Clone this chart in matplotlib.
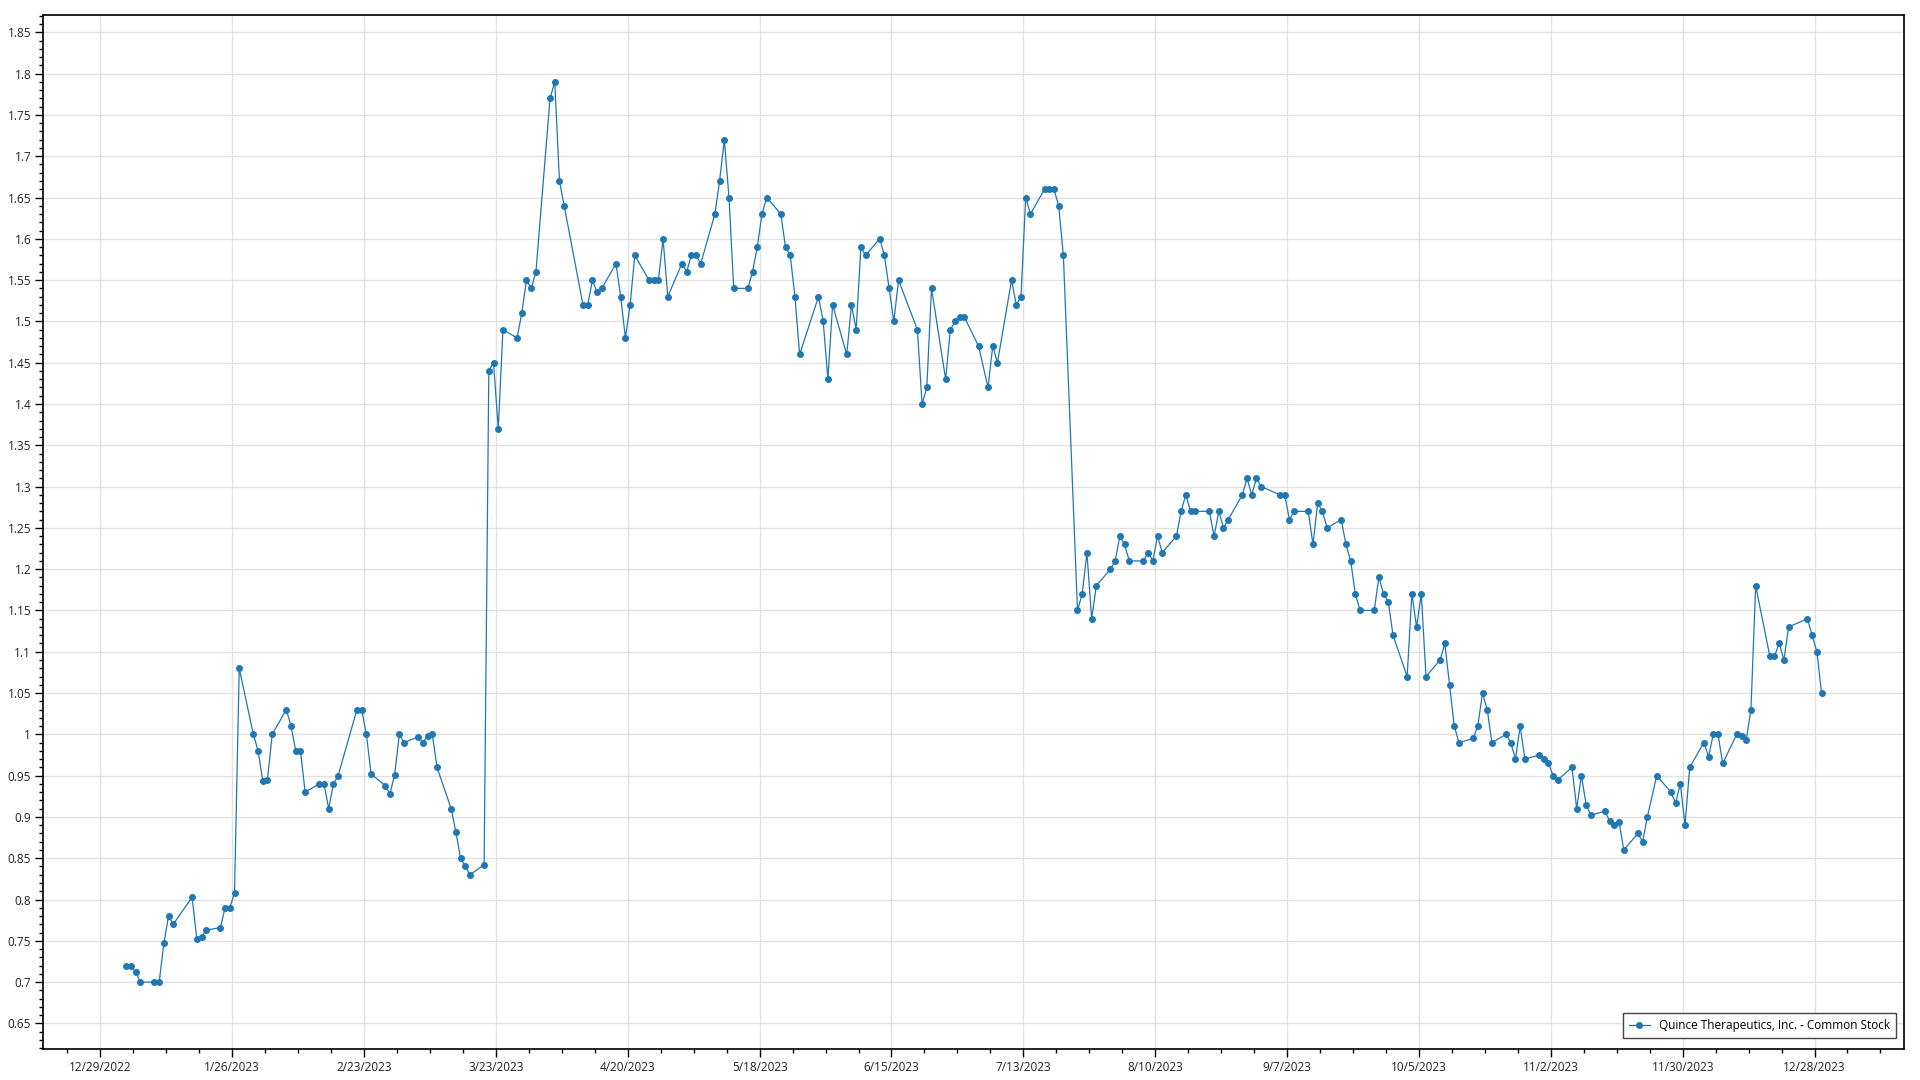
import matplotlib
matplotlib.use("Agg")
import matplotlib.pyplot as plt
import matplotlib.dates as mdates
import matplotlib.ticker as mticker
import pandas as pd

# trading days (month-day, 2023) and closing prices
dates = [
    "01-03", "01-04", "01-05", "01-06", "01-09", "01-10", "01-11", "01-12", "01-13",
    "01-17", "01-18", "01-19", "01-20", "01-23", "01-24", "01-25", "01-26", "01-27",
    "01-30", "01-31", "02-01", "02-02", "02-03", "02-06", "02-07", "02-08", "02-09", "02-10",
    "02-13", "02-14", "02-15", "02-16", "02-17", "02-21", "02-22", "02-23", "02-24",
    "02-27", "02-28", "03-01", "03-02", "03-03", "03-06", "03-07", "03-08", "03-09", "03-10",
    "03-13", "03-14", "03-15", "03-16", "03-17", "03-20", "03-21", "03-22", "03-23", "03-24",
    "03-27", "03-28", "03-29", "03-30", "03-31", "04-03", "04-04", "04-05", "04-06",
    "04-10", "04-11", "04-12", "04-13", "04-14", "04-17", "04-18", "04-19", "04-20", "04-21",
    "04-24", "04-25", "04-26", "04-27", "04-28", "05-01", "05-02", "05-03", "05-04", "05-05",
    "05-08", "05-09", "05-10", "05-11", "05-12", "05-15", "05-16", "05-17", "05-18", "05-19",
    "05-22", "05-23", "05-24", "05-25", "05-26", "05-30", "05-31", "06-01", "06-02",
    "06-05", "06-06", "06-07", "06-08", "06-09", "06-12", "06-13", "06-14", "06-15", "06-16",
    "06-20", "06-21", "06-22", "06-23", "06-26", "06-27", "06-28", "06-29", "06-30",
    "07-03", "07-05", "07-06", "07-07", "07-10", "07-11", "07-12", "07-13", "07-14",
    "07-17", "07-18", "07-19", "07-20", "07-21", "07-24", "07-25", "07-26", "07-27", "07-28",
    "07-31", "08-01", "08-02", "08-03", "08-04", "08-07", "08-08", "08-09", "08-10", "08-11",
    "08-14", "08-15", "08-16", "08-17", "08-18", "08-21", "08-22", "08-23", "08-24", "08-25",
    "08-28", "08-29", "08-30", "08-31", "09-01", "09-05", "09-06", "09-07", "09-08",
    "09-11", "09-12", "09-13", "09-14", "09-15", "09-18", "09-19", "09-20", "09-21", "09-22",
    "09-25", "09-26", "09-27", "09-28", "09-29", "10-02", "10-03", "10-04", "10-05", "10-06",
    "10-09", "10-10", "10-11", "10-12", "10-13", "10-16", "10-17", "10-18", "10-19", "10-20",
    "10-23", "10-24", "10-25", "10-26", "10-27", "10-30", "10-31", "11-01", "11-02", "11-03",
    "11-06", "11-07", "11-08", "11-09", "11-10", "11-13", "11-14", "11-15", "11-16", "11-17",
    "11-20", "11-21", "11-22", "11-24", "11-27", "11-28", "11-29", "11-30", "12-01",
    "12-04", "12-05", "12-06", "12-07", "12-08", "12-11", "12-12", "12-13", "12-14", "12-15",
    "12-18", "12-19", "12-20", "12-21", "12-22", "12-26", "12-27", "12-28", "12-29",
]
prices = [
    0.72, 0.72, 0.712, 0.70, 0.70, 0.70, 0.747, 0.78, 0.77,
    0.803, 0.752, 0.755, 0.763, 0.766, 0.79, 0.79, 0.808, 1.08,
    1.00, 0.98, 0.944, 0.945, 1.00, 1.03, 1.01, 0.98, 0.98, 0.93,
    0.94, 0.94, 0.91, 0.94, 0.95, 1.03, 1.03, 1.00, 0.952,
    0.938, 0.928, 0.951, 1.00, 0.99, 0.997, 0.99, 0.998, 1.00, 0.96,
    0.91, 0.882, 0.85, 0.84, 0.83, 0.842, 1.44, 1.45, 1.37, 1.49,
    1.48, 1.51, 1.55, 1.54, 1.56, 1.77, 1.79, 1.67, 1.64,
    1.52, 1.52, 1.55, 1.535, 1.54, 1.57, 1.53, 1.48, 1.52, 1.58,
    1.55, 1.55, 1.55, 1.60, 1.53, 1.57, 1.56, 1.58, 1.58, 1.57,
    1.63, 1.67, 1.72, 1.65, 1.54, 1.54, 1.56, 1.59, 1.63, 1.65,
    1.63, 1.59, 1.58, 1.53, 1.46, 1.53, 1.50, 1.43, 1.52,
    1.46, 1.52, 1.49, 1.59, 1.58, 1.60, 1.58, 1.54, 1.50, 1.55,
    1.49, 1.40, 1.42, 1.54, 1.43, 1.49, 1.50, 1.505, 1.505,
    1.47, 1.42, 1.47, 1.45, 1.55, 1.52, 1.53, 1.65, 1.63,
    1.66, 1.66, 1.66, 1.64, 1.58, 1.15, 1.17, 1.22, 1.14, 1.18,
    1.20, 1.21, 1.24, 1.23, 1.21, 1.21, 1.22, 1.21, 1.24, 1.22,
    1.24, 1.27, 1.29, 1.27, 1.27, 1.27, 1.24, 1.27, 1.25, 1.26,
    1.29, 1.31, 1.29, 1.31, 1.30, 1.29, 1.29, 1.26, 1.27,
    1.27, 1.23, 1.28, 1.27, 1.25, 1.26, 1.23, 1.21, 1.17, 1.15,
    1.15, 1.19, 1.17, 1.16, 1.12, 1.07, 1.17, 1.13, 1.17, 1.07,
    1.09, 1.11, 1.06, 1.01, 0.99, 0.995, 1.01, 1.05, 1.03, 0.99,
    1.00, 0.99, 0.97, 1.01, 0.97, 0.975, 0.97, 0.965, 0.95, 0.945,
    0.96, 0.91, 0.95, 0.915, 0.902, 0.907, 0.895, 0.89, 0.894, 0.86,
    0.88, 0.87, 0.90, 0.95, 0.93, 0.917, 0.94, 0.89, 0.96,
    0.99, 0.973, 1.00, 1.00, 0.965, 1.00, 0.998, 0.993, 1.03, 1.18,
    1.095, 1.095, 1.11, 1.09, 1.13, 1.14, 1.12, 1.10, 1.05,
]
series_name = "Quince Therapeutics, Inc. - Common Stock"

# points sit about half a day right of midnight in the reference
x = pd.to_datetime(["2023-" + d for d in dates]) + pd.Timedelta(hours=12)

plt.rcParams['font.family'] = ['Open Sans', 'DejaVu Sans']
plt.rcParams['font.size'] = 8.5

fig = plt.figure(figsize=(19.2, 10.8), dpi=100)
ax = fig.add_axes([43 / 1920, 1 - 1049 / 1080, (1904 - 43) / 1920, (1049 - 15) / 1080])

color = '#1f77b4'
ax.plot(x, prices, color=color, linewidth=0.9, marker='o', markersize=4.0,
        label=series_name)

# axis ranges
ax.set_xlim(pd.Timestamp("2022-12-16 20:00"), pd.Timestamp("2024-01-16"))
ax.set_ylim(0.619, 1.871)

# x ticks every 28 days from 12/29/2022
xt = pd.date_range("2022-12-29", "2023-12-28", freq="28D")
ax.set_xticks(xt)
ax.set_xticklabels([f"{d.month}/{d.day}/{d.year}" for d in xt])
ax.xaxis.set_minor_locator(mticker.FixedLocator(
    mdates.date2num(pd.date_range("2022-12-22", "2024-01-15", freq="7D"))))

ax.yaxis.set_major_locator(mticker.MultipleLocator(0.05))
ax.yaxis.set_minor_locator(mticker.MultipleLocator(0.01))
ax.yaxis.set_major_formatter(mticker.FuncFormatter(lambda v, p: f"{round(v, 2):g}"))

ax.tick_params(which='major', length=6, width=1, color='black', labelcolor='#222222', pad=2.5)
ax.tick_params(which='minor', length=3, width=1, color='black')

ax.grid(True, which='major', color='#e2e2e2', linewidth=1)
ax.set_axisbelow(True)
for s in ax.spines.values():
    s.set_color('black')
    s.set_linewidth(1.2)

leg = ax.legend(loc='lower right', frameon=True, fancybox=False, borderpad=0.5,
                handlelength=1.8, edgecolor='#444444', framealpha=1,
                bbox_to_anchor=(0.999, 0.005))
leg.get_frame().set_linewidth(1.0)

fig.savefig("out.png", dpi=100, facecolor='white')
